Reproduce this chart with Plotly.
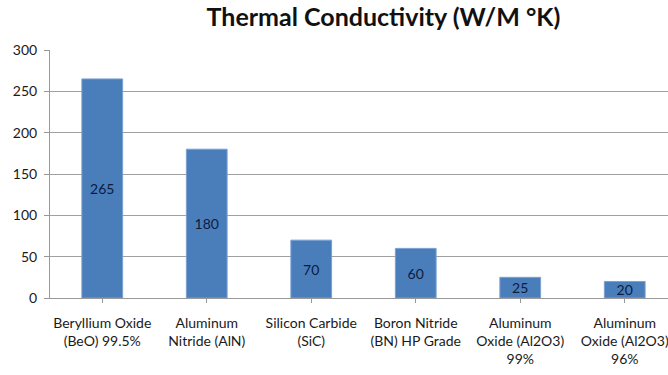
import plotly.graph_objects as go

categories = ["Beryllium Oxide<br>(BeO) 99.5%", "Aluminum<br>Nitride (AlN)", "Silicon Carbide<br>(SiC)",
              "Boron Nitride<br>(BN) HP Grade", "Aluminum<br>Oxide (Al2O3)<br>99%", "Aluminum<br>Oxide (Al2O3)<br>96%"]
values = [265, 180, 70, 60, 25, 20]
y_ticks = [0, 50, 100, 150, 200, 250, 300]

fig = go.Figure(go.Bar(
    x=list(range(len(categories))), y=values,
    text=[str(v) for v in values], textposition="inside", insidetextanchor="middle",
    textangle=0, constraintext="none", cliponaxis=False,
    textfont=dict(family="Lato", size=14, color="#0d1b3e"),
    marker=dict(color="#4a7ebb", line=dict(color="#7aa0d2", width=1)),
))

fig.update_layout(
    width=668, height=375, margin=dict(l=50, r=0, t=50, b=77),
    paper_bgcolor="white", plot_bgcolor="white",
    bargap=0.61, showlegend=False,
    font=dict(family="Lato", color="#1a1a1a"),
    title=dict(text="<b>Thermal Conductivity (W/M °K)</b>", x=0.574, xanchor="center",
               y=0.955, yanchor="middle", font=dict(family="Lato", size=25, color="#111")),
)
fig.update_xaxes(
    range=[-0.5, 5.414], tickmode="array", tickvals=list(range(len(categories))), ticktext=categories,
    tickson="boundaries", ticks="outside", ticklen=4, tickcolor="#999",
    showline=True, linecolor="#999", linewidth=1, showgrid=False, ticklabelstandoff=8,
    ticklabeloverflow="allow",
    tickfont=dict(family="Lato", size=14, color="#1a1a1a"),
)
fig.update_yaxes(
    range=[0, 300], tickvals=y_ticks, ticks="outside", ticklen=5, tickcolor="#999",
    showline=True, linecolor="#999", linewidth=1, showgrid=True, gridcolor="#a0a0a0", gridwidth=1,
    tickfont=dict(family="Lato", size=14, color="#1a1a1a"), zeroline=False, ticklabelstandoff=4,
)
fig.write_html("out.html")
